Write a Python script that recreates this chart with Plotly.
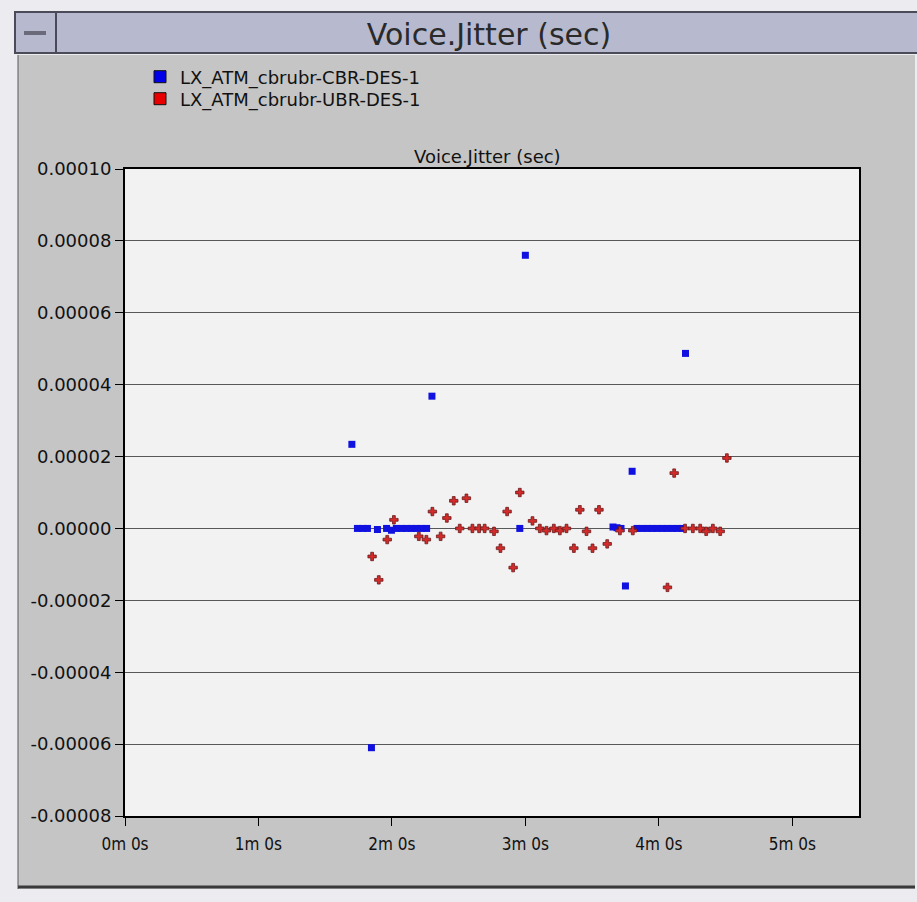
import plotly.graph_objects as go

# ---------------- data (time in seconds, jitter in seconds) ----------------
cbr_t = [102.0, 104.5, 106.8, 109.0, 110.8, 113.5, 117.6, 119.8, 122.0, 124.3, 126.6,
         128.8, 131.0, 133.3, 135.6, 138.0, 177.5, 180.0, 219.4, 221.2, 223.0, 225.0,
         228.0, 230.2, 232.5, 234.7, 237.0, 239.2, 241.5, 243.7, 246.0, 248.2, 250.5, 252.0]
cbr_v = [2.34e-5, 0.0, 0.0, 0.0, -6.1e-5, -3e-7, 0.0, -5e-7, 0.0, 0.0, 0.0,
         0.0, 0.0, 0.0, 0.0, 3.68e-5, 0.0, 7.6e-5, 4e-7, 2e-7, 0.0, -1.6e-5,
         1.59e-5, 0.0, 0.0, 0.0, 0.0, 0.0, 0.0, 0.0, 0.0, 0.0, 0.0, 4.87e-5]

ubr_t = [111.1, 114.1, 117.9, 120.9, 132.1, 135.5, 138.2, 141.9, 144.7, 147.8, 150.5,
         153.5, 156.2, 159.2, 161.7, 165.9, 168.8, 171.8, 174.5, 177.5, 183.2, 186.5,
         189.5, 192.8, 195.5, 198.5, 201.8, 204.5, 207.5, 210.2, 213.1, 216.8, 222.5,
         228.3, 243.9, 246.9, 251.8, 255.3, 258.6, 261.3, 264.3, 267.6, 270.6]
ubr_v = [-7.8e-6, -1.43e-5, -3.1e-6, 2.4e-6, -2.2e-6, -3.1e-6, 4.7e-6, -2.2e-6, 2.9e-6, 7.7e-6, 0.0,
         8.4e-6, 0.0, 0.0, 0.0, -8e-7, -5.5e-6, 4.7e-6, -1.09e-5, 1.0e-5, 2.1e-6, 0.0,
         -6e-7, 0.0, -6e-7, 0.0, -5.5e-6, 5.2e-6, -8e-7, -5.5e-6, 5.2e-6, -4.3e-6, -6e-7,
         -6e-7, -1.64e-5, 1.54e-5, 0.0, 0.0, 0.0, -8e-7, 0.0, -8e-7, 1.96e-5]

series_names = ["LX_ATM_cbrubr-CBR-DES-1", "LX_ATM_cbrubr-UBR-DES-1"]
x_tickvals = [0, 60, 120, 180, 240, 300]
x_ticktext = ["0m 0s", "1m 0s", "2m 0s", "3m 0s", "4m 0s", "5m 0s"]
y_tickvals = [-8e-5, -6e-5, -4e-5, -2e-5, 0.0, 2e-5, 4e-5, 6e-5, 8e-5, 1e-4]
y_ticktext = ["-0.00008", "-0.00006", "-0.00004", "-0.00002", "0.00000",
              "0.00002", "0.00004", "0.00006", "0.00008", "0.00010"]
title_text = "Voice.Jitter (sec)"

# ---------------- layout geometry (pixels) ----------------
W, H = 917, 902
L, R, T, B = 125, 859, 169, 816
PW, PH = R - L, B - T


def px(x):
    return (x - L) / PW


def py(y):
    return (B - y) / PH


BLUE = "#1010e0"
RED = "#d42a2a"

fig = go.Figure()
fig.add_trace(go.Scatter(x=cbr_t, y=cbr_v, mode="markers", showlegend=False,
                         marker=dict(symbol="square", size=7, color=BLUE, line=dict(width=0))))
fig.add_trace(go.Scatter(x=ubr_t, y=ubr_v, mode="markers", showlegend=False,
                         marker=dict(symbol="cross", size=7, color=RED,
                                     line=dict(width=0.8, color="#6b1a1a"))))
# legend entries
fig.add_trace(go.Scatter(x=[None], y=[None], mode="markers", name=series_names[0], legend="legend",
                         marker=dict(symbol="square", size=12, color="#0000e8",
                                     line=dict(width=1, color="#111111"))))
fig.add_trace(go.Scatter(x=[None], y=[None], mode="markers", name=series_names[1], legend="legend2",
                         marker=dict(symbol="square", size=12, color="#e80000",
                                     line=dict(width=1, color="#111111"))))

shapes = [
    # title bar
    dict(type="rect", x0=px(15), x1=px(918), y0=py(12), y1=py(53),
         fillcolor="#b7bace", line=dict(color="#4a4a58", width=2)),
    dict(type="line", x0=px(56), x1=px(56), y0=py(12), y1=py(53),
         line=dict(color="#4a4a58", width=2)),
    dict(type="rect", x0=px(24), x1=px(46), y0=py(31), y1=py(35),
         fillcolor="#6a6a7a", line=dict(width=0)),
    # panel
    dict(type="rect", x0=px(18), x1=px(915), y0=py(55), y1=py(889),
         fillcolor="#c5c5c5", line=dict(width=0)),
    dict(type="line", x0=px(18), x1=px(18), y0=py(55), y1=py(889),
         line=dict(color="#5a5a5a", width=1)),
    dict(type="line", x0=px(18), x1=px(915), y0=py(887), y1=py(887),
         line=dict(color="#3a3a3a", width=3)),
    # plot area
    dict(type="rect", x0=0, x1=1, y0=0, y1=1,
         fillcolor="#f2f2f2", line=dict(width=0)),
]
for s in shapes:
    s.update(xref="paper", yref="paper", layer="below")

fig.update_layout(
    width=W, height=H,
    margin=dict(l=L, r=W - R, t=T, b=H - B, pad=0),
    paper_bgcolor="#ececf0",
    plot_bgcolor="#f2f2f2",
    shapes=shapes,
    font=dict(family="DejaVu Sans", color="#111111"),
    title=dict(text=title_text, x=489 / W, y=1 - 34 / H, xanchor="center", yanchor="middle",
               xref="container", yref="container",
               font=dict(family="DejaVu Sans", size=30, color="#2a2a2a")),
    annotations=[dict(text=title_text, x=px(487), y=py(157), xref="paper", yref="paper",
                      xanchor="center", yanchor="middle", showarrow=False,
                      font=dict(family="DejaVu Sans", size=18, color="#111111"))],
    legend=dict(x=px(140), y=py(77), xanchor="left", yanchor="middle",
                bgcolor="rgba(0,0,0,0)", borderwidth=0,
                font=dict(family="DejaVu Sans", size=18, color="#111111")),
    legend2=dict(x=px(140), y=py(99), xanchor="left", yanchor="middle",
                 bgcolor="rgba(0,0,0,0)", borderwidth=0,
                 font=dict(family="DejaVu Sans", size=18, color="#111111")),
    xaxis=dict(range=[0, 330], tickvals=x_tickvals, ticktext=x_ticktext,
               showgrid=False, zeroline=False, showline=True, linecolor="#000000",
               linewidth=2, mirror=True, ticks="outside", ticklen=8, tickcolor="#000000",
               ticklabelstandoff=4,
               tickfont=dict(family="DejaVu Sans Condensed, Liberation Sans Narrow, Liberation Sans",
                             size=17, color="#111111")),
    yaxis=dict(range=[-8e-5, 1e-4], tickvals=y_tickvals, ticktext=y_ticktext,
               showgrid=True, gridcolor="#585858", gridwidth=1, zeroline=False,
               showline=True, linecolor="#000000", linewidth=2, mirror=True,
               ticks="outside", ticklen=8, tickcolor="#000000",
               tickfont=dict(family="DejaVu Sans", size=18, color="#111111")),
)

fig.write_html("out.html", config=dict(displayModeBar=False),
               post_script="document.body.style.margin='0';document.body.style.overflow='hidden';")
